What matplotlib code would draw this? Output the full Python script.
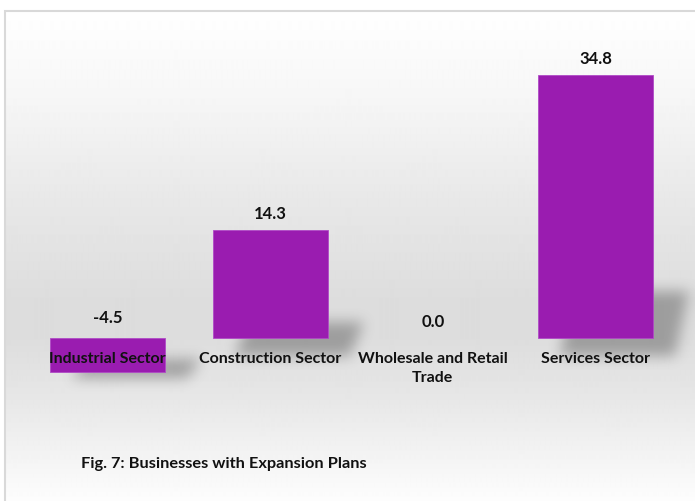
import numpy as np
import matplotlib.pyplot as plt
from matplotlib.patches import Rectangle

plt.rcParams['font.family'] = ['Lato', 'DejaVu Sans']

categories = ['Industrial Sector', 'Construction Sector', 'Wholesale and Retail\nTrade', 'Services Sector']
values = [-4.5, 14.3, 0.0, 34.8]
title = 'Fig. 7: Businesses with Expansion Plans'

bar_color = '#9a1cb0'
W, H = 695, 502

fig = plt.figure(figsize=(W / 100, H / 100), dpi=100)
ax = fig.add_axes([0, 0, 1, 1])
x0, x1 = -0.661, 3.612
y0, y1 = -21.56, 44.84
ax.set_xlim(x0, x1)
ax.set_ylim(y0, y1)
ax.axis('off')

def px_x(p):
    return x0 + p / W * (x1 - x0)

def px_y(p):
    return y1 - p / H * (y1 - y0)

# chart area: border + vertical grey gradient
top, left = 12, 5
stops_px = [12, 100, 200, 300, 340, 400, 460, 502]
stops_v = [255, 246, 232, 221, 221, 231, 244, 253]
rows = np.arange(top, H)
grey = np.interp(rows, stops_px, stops_v) / 255.0
grad = np.repeat(grey[:, None], 2, axis=1)
ax.imshow(grad, cmap='gray', vmin=0, vmax=1, aspect='auto', interpolation='bilinear',
          extent=(px_x(left), x1, px_y(H), px_y(top)), zorder=0)
ax.add_patch(Rectangle((px_x(left), px_y(H + 5)), x1 - px_x(left) + 1, px_y(top) - px_y(H + 5),
                       fill=False, edgecolor='#d9d9d9', linewidth=1.5, zorder=1))

# soft perspective shadows behind the bars
width = 0.707
xs = np.arange(len(values))
gx = x0 + (np.arange(W) + 0.5) / W * (x1 - x0)
gy = y1 - (np.arange(H) + 0.5) / H * (y1 - y0)
GX, GY = np.meshgrid(gx, gy)
mask = np.zeros((H, W))
unit = (x1 - x0) / W  # data units per pixel in x
yunit = (y1 - y0) / H
for x, v in zip(xs, values):
    if v == 0:
        continue
    bottom = min(v, 0)
    h = abs(v) / yunit
    off = 18 if v > 0 else 6
    yb = bottom - off * yunit
    yt = yb + (12 + 0.2 * h) * yunit
    frac = np.clip((GY - yb) / (yt - yb), 0, 1)
    shift = (22 + 14 * frac) * unit
    inside = (GY >= yb) & (GY <= yt) & (GX >= x - width / 2 + shift) & (GX <= x + width / 2 + shift)
    mask[inside] = 1.0

def box_blur(a, r, axis):
    pad = [(0, 0), (0, 0)]
    pad[axis] = (r + 1, r)
    c = np.cumsum(np.pad(a, pad, mode='edge'), axis=axis)
    n = a.shape[axis]
    hi = np.take(c, np.arange(2 * r + 1, 2 * r + 1 + n), axis=axis)
    lo = np.take(c, np.arange(0, n), axis=axis)
    return (hi - lo) / (2 * r + 1)

for _ in range(3):
    mask = box_blur(mask, 6, 0)
    mask = box_blur(mask, 6, 1)

shadow = np.zeros((H, W, 4))
shadow[..., :3] = 0.25
shadow[..., 3] = mask * 0.4
ax.imshow(shadow, aspect='auto', extent=(x0, x1, y0, y1), zorder=2, interpolation='nearest')
ax.set_xlim(x0, x1)
ax.set_ylim(y0, y1)

edges = ['#b04ac6' if v != 0 else 'none' for v in values]
ax.bar(xs, values, width=width, color=bar_color, edgecolor=edges, linewidth=0.6, zorder=3)

for x, v, name in zip(xs, values, categories):
    lift = 17 if v >= 0 else 21
    ax.annotate(f'{v:.1f}', xy=(x, max(v, 0)), xytext=(0, lift * 0.72), textcoords='offset points',
                ha='center', va='center', fontsize=12, fontweight='bold', color='#111111', zorder=5)
    ax.text(x, px_y(352), name, ha='center', va='top', fontsize=11.5, fontweight='bold',
            color='#111111', linespacing=1.5, zorder=5)

ax.text(px_x(81), px_y(464), title, ha='left', va='center', fontsize=11.8,
        fontweight='bold', color='#111111', zorder=5)

fig.savefig('out.png', dpi=100)
